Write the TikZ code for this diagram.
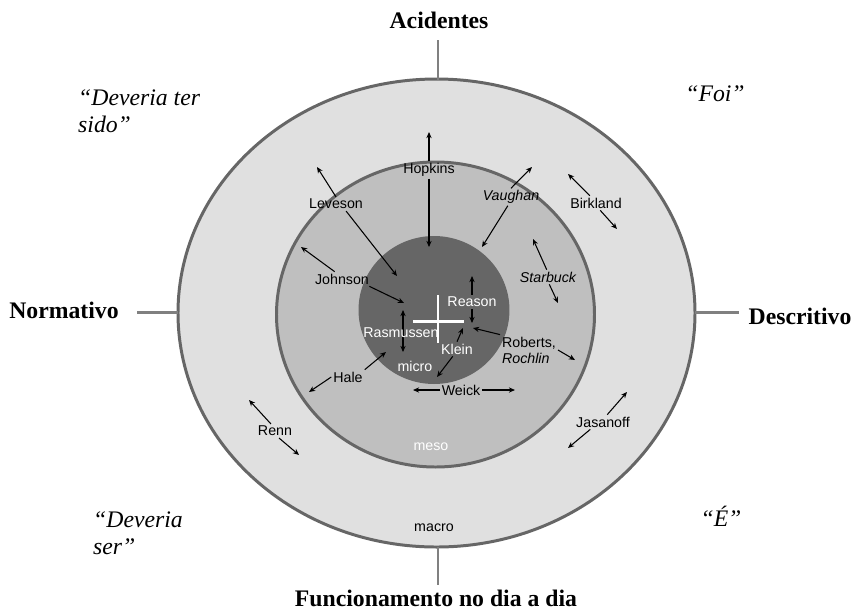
\documentclass[tikz,border=0pt]{standalone}
\usepackage{fontspec}
\setmainfont{Liberation Serif}
\newfontfamily\namefont{Liberation Sans}
\usetikzlibrary{arrows.meta}

\begin{document}
\begin{tikzpicture}[x=0.02cm, y=-0.02cm, >={Stealth[length=3.5pt, width=3pt]},
		ring/.style={draw=black!60, line width=1.7pt},
		axisline/.style={draw=black!50, line width=1.7pt},
		arr/.style={->, line width=0.6pt},
		author/.style={font=\namefont\fontsize{8.1}{9.2}\selectfont, inner sep=1pt},
		inauthor/.style={author, text=white},
		polelabel/.style={font=\bfseries\fontsize{13.5}{15}\selectfont},
		quotelabel/.style={font=\itshape\fontsize{13.5}{15.5}\selectfont, align=left}]
			\useasboundingbox (0, 0) rectangle (856, 613);
			
			\fill[white] (0, 0) rectangle (856, 613);
			\draw[ring, fill=black!12] (436.5, 313) ellipse [x radius=258.5, y radius=234];
			\draw[ring, fill=black!25] (435.5, 314.5) ellipse [x radius=159, y radius=152.5];
			\draw[ring, fill=black!60] (434, 310) ellipse [x radius=74, y radius=72.5];
			
			\coordinate (topin) at (438, 80);
			\coordinate (topout) at (438, 40);
			\coordinate (bottomin) at (438, 547);
			\coordinate (bottomout) at (438, 585);
			\coordinate (leftin) at (178, 312);
			\coordinate (leftout) at (137, 312);
			\coordinate (rightin) at (695, 312);
			\coordinate (rightout) at (739, 312);
			\draw[axisline] (topin) -- (topout);
			\draw[axisline] (bottomin) -- (bottomout);
			\draw[axisline] (leftin) -- (leftout);
			\draw[axisline] (rightin) -- (rightout);
			
			\draw[white, line width=1.7pt] (438, 295) -- (438, 343);
			\draw[white, line width=1.7pt] (413, 321) -- (464, 321);
			
			\node [polelabel] (Acidentes) at (439, 20) {Acidentes};
			\node [polelabel] (Normativo) at (64, 310) {Normativo};
			\node [polelabel] (Descritivo) at (800, 316) {Descritivo};
			\node [polelabel] (Funcionamento) at (436, 598) {Funcionamento no dia a dia};
			
			\node [quotelabel, anchor=west] (DeveriaTerSido) at (72, 111) {“Deveria ter\\sido”};
			\node [quotelabel] (Foi) at (715, 94) {“Foi”};
			\node [quotelabel, anchor=west] (DeveriaSer) at (87, 533) {“Deveria\\ser”};
			\node [quotelabel] (E) at (721, 516) {“É”};
			
			\node [author] (Hopkins) at (429, 170) {Hopkins};
			\node [author] (Leveson) at (336, 204) {Leveson};
			\node [author] (Vaughan) at (511, 197) {\itshape Vaughan};
			\node [author] (Birkland) at (596, 203) {Birkland};
			\node [author] (Johnson) at (342, 279) {Johnson};
			\node [author] (Starbuck) at (548, 277) {\itshape Starbuck};
			\node [inauthor] (Reason) at (472, 302) {Reason};
			\coordinate (RasmussenUp) at (403, 310);
			\coordinate (RasmussenDown) at (403, 352);
			\draw[<->, line width=0.6pt] (RasmussenUp) -- (RasmussenDown);
			\node [inauthor] (Rasmussen) at (401, 333) {Rasmussen};
			\node [inauthor] (Klein) at (457, 349) {Klein};
			\node [inauthor] (Micro) at (415, 366) {micro};
			\node [author, anchor=west, align=left] (Roberts) at (500, 350) {Roberts,\\\itshape Rochlin};
			\node [author] (Hale) at (348, 377) {Hale};
			\node [author] (Weick) at (461, 390) {Weick};
			\node [inauthor] (Meso) at (431, 447) {meso};
			\node [author] (Renn) at (275, 431) {Renn};
			\node [author] (Jasanoff) at (603, 422) {Jasanoff};
			\node [author] (Macro) at (434, 528) {macro};
			
			\coordinate (HopkinsUp) at (429, 132);
			\coordinate (HopkinsDown) at (429, 247);
			\coordinate (LevesonOut) at (317, 167);
			\coordinate (LevesonIn) at (397, 276);
			\coordinate (VaughanOut) at (532, 167);
			\coordinate (VaughanIn) at (482, 247);
			\coordinate (BirklandUp) at (568, 174);
			\coordinate (BirklandDown) at (617, 229);
			\coordinate (JohnsonOut) at (301, 247);
			\coordinate (JohnsonIn) at (404, 303);
			\coordinate (StarbuckUp) at (533, 239);
			\coordinate (StarbuckDown) at (558, 303);
			\coordinate (ReasonUp) at (472, 276);
			\coordinate (ReasonDown) at (472, 323);
			\coordinate (KleinUp) at (463, 328);
			\coordinate (KleinDown) at (437, 377);
			\coordinate (RobertsIn) at (473, 328);
			\coordinate (RobertsOut) at (575, 360);
			\coordinate (HaleIn) at (386, 352);
			\coordinate (HaleOut) at (309, 392);
			\coordinate (WeickLeft) at (413, 390);
			\coordinate (WeickRight) at (515, 390);
			\coordinate (RennUp) at (249, 400);
			\coordinate (RennDown) at (299, 455);
			\coordinate (JasanoffUp) at (627, 392);
			\coordinate (JasanoffDown) at (568, 448);
			
			\draw[arr] (Hopkins.north) -- (HopkinsUp);
			\draw[arr] (Hopkins.south) -- (HopkinsDown);
			\draw[arr] (Leveson.north) -- (LevesonOut);
			\draw[arr] (Leveson.-35) -- (LevesonIn);
			\draw[arr] (Vaughan.north) -- (VaughanOut);
			\draw[arr] (Vaughan.250) -- (VaughanIn);
			\draw[arr] (Birkland.130) -- (BirklandUp);
			\draw[arr] (Birkland.-60) -- (BirklandDown);
			\draw[arr] (Johnson.135) -- (JohnsonOut);
			\draw[arr] (Johnson.-15) -- (JohnsonIn);
			\draw[arr] (Starbuck.100) -- (StarbuckUp);
			\draw[arr] (Starbuck.-80) -- (StarbuckDown);
			\draw[arr] (Reason.north) -- (ReasonUp);
			\draw[arr] (Reason.south) -- (ReasonDown);
			\draw[arr] (Klein.north) -- (KleinUp);
			\draw[arr] (Klein.240) -- (KleinDown);
			\draw[arr] (Roberts.north west) -- (RobertsIn);
			\draw[arr] (Roberts.east) -- (RobertsOut);
			\draw[arr] (Hale.north east) -- (HaleIn);
			\draw[arr] (Hale.west) -- (HaleOut);
			\draw[arr] (Weick.west) -- (WeickLeft);
			\draw[arr] (Weick.east) -- (WeickRight);
			\draw[arr] (Renn.120) -- (RennUp);
			\draw[arr] (Renn.-60) -- (RennDown);
			\draw[arr] (Jasanoff.60) -- (JasanoffUp);
			\draw[arr] (Jasanoff.210) -- (JasanoffDown);
		\end{tikzpicture}
\end{document}
